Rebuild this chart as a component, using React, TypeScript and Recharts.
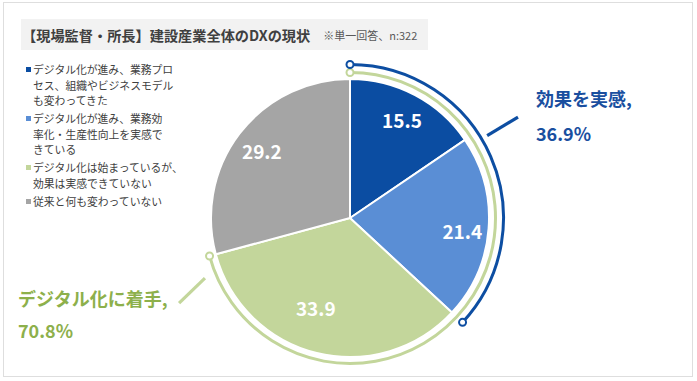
import React from 'react';
import { PieChart, Pie, Cell, Legend, Customized } from 'recharts';

// 【現場監督・所長】建設産業全体のDXの現状 (%)
const CATEGORIES = [
  'デジタル化が進み、業務プロ\nセス、組織やビジネスモデル\nも変わってきた',
  'デジタル化が進み、業務効\n率化・生産性向上を実感で\nきている',
  'デジタル化は始まっているが、\n効果は実感できていない',
  '従来と何も変わっていない',
];
const VALUES = [15.5, 21.4, 33.9, 29.2];
const COLORS = ['#0b4da2', '#5a8ed5', '#c3d69b', '#a5a5a5'];

const TITLE = '【現場監督・所長】建設産業全体のDXの現状';
const NOTE = '※単一回答、n:322';
const EFFECT_LABEL = '効果を実感,';
const STARTED_LABEL = 'デジタル化に着手,';

// derived groups
const effectTotal = +(VALUES[0] + VALUES[1]).toFixed(1);
const startedTotal = +(VALUES[0] + VALUES[1] + VALUES[2]).toFixed(1);

const pieData = CATEGORIES.map((name, i) => ({ name, value: VALUES[i] }));
const effectData = [
  { name: 'effect', value: effectTotal },
  { name: 'rest', value: +(100 - effectTotal).toFixed(1) },
];
const startedData = [
  { name: 'started', value: startedTotal },
  { name: 'rest', value: +(100 - startedTotal).toFixed(1) },
];

const W = 697;
const H = 381;
const CX = 350;
const CY = 218;
const R = 139;
const FONT = '"Noto Sans CJK JP", "Noto Sans", sans-serif';
const RAD = Math.PI / 180;

const polar = (r: number, angle: number) => ({
  x: CX + r * Math.cos(-angle * RAD),
  y: CY + r * Math.sin(-angle * RAD),
});

// label radius tweaks (layout only)
const LABEL_R = [111, 113, 96, 111];
const LABEL_SHIFT = [0, -2, -7, 0];

const renderLabel = (props: any) => {
  const { cx, cy, midAngle, index, value } = props;
  const a = midAngle + LABEL_SHIFT[index];
  const r = LABEL_R[index];
  const x = cx + r * Math.cos(-a * RAD);
  const y = cy + r * Math.sin(-a * RAD);
  return (
    <text
      x={x}
      y={y}
      fill="#fff"
      textAnchor="middle"
      dominantBaseline="central"
      fontSize={19}
      fontWeight="bold"
      fontFamily={FONT}
    >
      {value.toFixed(1)}
    </text>
  );
};

const ArcShape = (props: any) => {
  const { cx, cy, innerRadius, outerRadius, startAngle, endAngle, fill } = props;
  if (!fill || fill === 'none') return <g />;
  const r = (innerRadius + outerRadius) / 2;
  const p = (ang: number) => ({
    x: cx + r * Math.cos(-ang * RAD),
    y: cy + r * Math.sin(-ang * RAD),
  });
  const s = p(startAngle);
  const e = p(endAngle);
  const large = Math.abs(endAngle - startAngle) > 180 ? 1 : 0;
  const sweep = endAngle < startAngle ? 1 : 0;
  return (
    <g>
      <path
        d={`M${s.x},${s.y} A${r},${r} 0 ${large} ${sweep} ${e.x},${e.y}`}
        fill="none"
        stroke={fill}
        strokeWidth={3}
      />
      <circle cx={s.x} cy={s.y} r={3.5} fill="#fff" stroke={fill} strokeWidth={2} />
      <circle cx={e.x} cy={e.y} r={3.5} fill="#fff" stroke={fill} strokeWidth={2} />
    </g>
  );
};

const Annotations = () => {
  const b1 = polar(160, 31);
  const b2 = polar(196, 31);
  const g1 = polar(157, -157.5);
  const g2 = polar(191, -153.5);
  return (
    <g fontFamily={FONT} fontWeight="bold" fontSize={18}>
      <line x1={b1.x} y1={b1.y} x2={b2.x} y2={b2.y} stroke="#0d4ea2" strokeWidth={3.2} />
      <line x1={g1.x} y1={g1.y} x2={g2.x} y2={g2.y} stroke="#c3d69b" strokeWidth={3.2} />
      <text x={536} y={98} fill="#1a4f9f" dominantBaseline="central">{EFFECT_LABEL}</text>
      <text x={536} y={133} fill="#1a4f9f" dominantBaseline="central">{effectTotal.toFixed(1)}%</text>
      <text x={18} y={298} fill="#8db04b" dominantBaseline="central">{STARTED_LABEL}</text>
      <text x={18} y={330} fill="#8db04b" dominantBaseline="central">{startedTotal.toFixed(1)}%</text>
    </g>
  );
};

const LegendContent = () => (
  <div style={{ fontFamily: FONT, fontSize: 10.8, color: '#404040', lineHeight: '15.5px' }}>
    {CATEGORIES.map((name, i) => (
      <div key={i} style={{ position: 'relative', paddingLeft: 11, marginBottom: 2.5 }}>
        <span
          style={{
            position: 'absolute',
            left: 4,
            top: 5,
            width: 5,
            height: 5,
            background: COLORS[i],
          }}
        />
        {name.split('\n').map((line, j) => (
          <div key={j} style={{ whiteSpace: 'nowrap' }}>{line}</div>
        ))}
      </div>
    ))}
  </div>
);

export default function App() {
  return (
    <div style={{ position: 'relative', width: W, height: H, background: '#fff', fontFamily: FONT }}>
      <style>{'body{margin:0}'}</style>
      <div
        style={{
          position: 'absolute',
          left: 3,
          top: 2,
          width: 688,
          height: 373,
          border: '1.5px solid #dedede',
        }}
      />
      <div
        style={{
          position: 'absolute',
          left: 21,
          top: 19,
          width: 407,
          height: 31,
          background: '#f2f2f2',
          display: 'flex',
          alignItems: 'center',
          whiteSpace: 'nowrap',
        }}
      >
        <span style={{ fontSize: 14.2, fontWeight: 'bold', color: '#404040', marginLeft: 1 }}>{TITLE}</span>
        <span style={{ fontSize: 11, color: '#595959', marginLeft: 13 }}>{NOTE}</span>
      </div>
      <div style={{ position: 'absolute', left: 0, top: 0 }}>
        <PieChart width={W} height={H} margin={{ top: 0, right: 0, bottom: 0, left: 0 }}>
          <Pie
            data={pieData}
            dataKey="value"
            nameKey="name"
            cx={CX}
            cy={CY}
            outerRadius={R}
            startAngle={90}
            endAngle={-270}
            stroke="#fff"
            strokeWidth={2}
            label={renderLabel}
            labelLine={false}
            isAnimationActive={false}
          >
            {pieData.map((_, i) => (
              <Cell key={i} fill={COLORS[i]} />
            ))}
          </Pie>
          <Pie
            data={startedData}
            dataKey="value"
            cx={CX}
            cy={CY}
            innerRadius={144}
            outerRadius={147}
            startAngle={90}
            endAngle={-270}
            shape={ArcShape}
            legendType="none"
            isAnimationActive={false}
          >
            <Cell fill="#c3d69b" />
            <Cell fill="none" />
          </Pie>
          <Pie
            data={effectData}
            dataKey="value"
            cx={CX}
            cy={CY}
            innerRadius={152}
            outerRadius={155}
            startAngle={90}
            endAngle={-270}
            shape={ArcShape}
            legendType="none"
            isAnimationActive={false}
          >
            <Cell fill="#0d4ea2" />
            <Cell fill="none" />
          </Pie>
          <Customized component={Annotations} />
          <Legend
            content={LegendContent}
            layout="vertical"
            wrapperStyle={{ position: 'absolute', left: 22, top: 62, width: 170 }}
          />
        </PieChart>
      </div>
    </div>
  );
}
